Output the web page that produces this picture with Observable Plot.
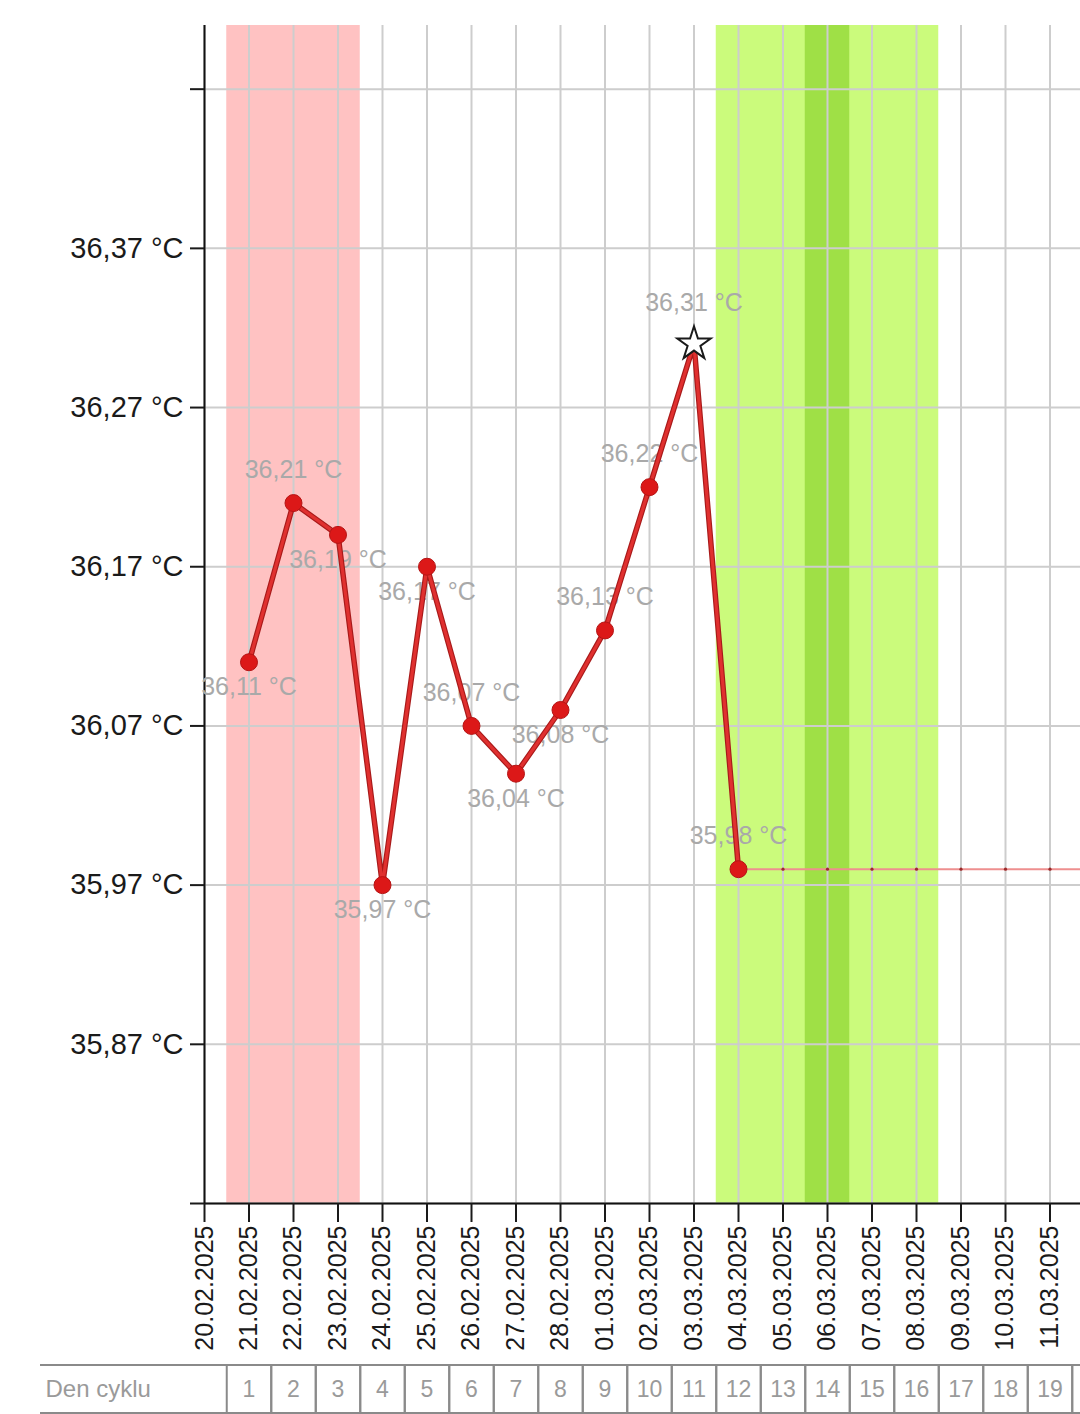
<!DOCTYPE html>
<html><head><meta charset="utf-8">
<script src="https://cdn.jsdelivr.net/npm/d3@7"></script>
<script src="https://cdn.jsdelivr.net/npm/@observablehq/plot@0.6"></script>
<style>
body{margin:0;background:#fff;font-family:"Liberation Sans",Arial,sans-serif;}
#chart{position:relative;width:1080px;height:1414px;overflow:hidden;}
#chart svg{max-width:none;}
#table{margin-left:40px;width:1040px;border-top:2px solid #8a8a8a;border-bottom:2px solid #8a8a8a;height:46px;position:relative;}
#table svg{position:absolute;left:-40px;top:0;width:1080px;max-width:none;}
</style></head><body><div id="chart"></div>
<script>
// ---- data ----
const measureDates = ["2025-02-21","2025-02-22","2025-02-23","2025-02-24","2025-02-25","2025-02-26","2025-02-27","2025-02-28","2025-03-01","2025-03-02","2025-03-03","2025-03-04"];
const temperatures = [36.11, 36.21, 36.19, 35.97, 36.17, 36.07, 36.04, 36.08, 36.13, 36.22, 36.31, 35.98];
const labelSides = ["below","above","below","below","below","above","below","below","above","above","above","above"];
const peakDate = "2025-03-03";
const pendingDates = ["2025-03-04","2025-03-05","2025-03-06","2025-03-07","2025-03-08","2025-03-09","2025-03-10","2025-03-11","2025-03-12","2025-03-13"];
const pendingValues = [35.98, 35.98, 35.98, 35.98, 35.98, 35.98, 35.98, 35.98, 35.98, 35.98];
const axisDates = ["2025-02-20","2025-02-21","2025-02-22","2025-02-23","2025-02-24","2025-02-25","2025-02-26","2025-02-27","2025-02-28","2025-03-01","2025-03-02","2025-03-03","2025-03-04","2025-03-05","2025-03-06","2025-03-07","2025-03-08","2025-03-09","2025-03-10","2025-03-11","2025-03-12"];
const cycleDates = ["2025-02-21","2025-02-22","2025-02-23","2025-02-24","2025-02-25","2025-02-26","2025-02-27","2025-02-28","2025-03-01","2025-03-02","2025-03-03","2025-03-04","2025-03-05","2025-03-06","2025-03-07","2025-03-08","2025-03-09","2025-03-10","2025-03-11","2025-03-12"];
const cycleDays = [1,2,3,4,5,6,7,8,9,10,11,12,13,14,15,16,17,18,19,20];
const cycleLabel = "Den cyklu";
const yTicks = [35.77, 35.87, 35.97, 36.07, 36.17, 36.27, 36.37, 36.47];
const yTickLabels = ["", "35,87 °C", "35,97 °C", "36,07 °C", "36,17 °C", "36,27 °C", "36,37 °C", ""];
const bandKinds = ["menstruace", "plodné dny", "ovulace"];
const bandStarts = ["2025-02-21", "2025-03-04", "2025-03-06"];
const bandEnds = ["2025-02-23", "2025-03-08", "2025-03-06"];

// ---- helpers ----
const parse = d3.utcParse("%Y-%m-%d");
const HALF = 12 * 3600 * 1000;
const fmtDate = d3.utcFormat("%d.%m.%Y");
const fmtTemp = v => v.toFixed(2).replace(".", ",") + " °C";
const FONT = '"Liberation Sans", Arial, sans-serif';

const points = measureDates.map((d, i) => ({date: parse(d), t: temperatures[i], side: labelSides[i], peak: d === peakDate}));
const pending = pendingDates.map((d, i) => ({date: parse(d), t: pendingValues[i]}));
const bands = bandKinds.map((k, i) => ({kind: k, x1: new Date(+parse(bandStarts[i]) - HALF), x2: new Date(+parse(bandEnds[i]) + HALF)}));
const ticksX = axisDates.map(parse);
const cells = cycleDays.map((n, i) => ({n, date: parse(cycleDates[i])}));
const tickLabelMap = new Map(yTicks.map((v, i) => [v, yTickLabels[i]]));

const xDomain = [parse("2025-02-20"), new Date(+parse("2025-03-11") + 16.45 * 3600 * 1000)];
const yDomain = [35.77, 36.51];

const main = Plot.plot({
  width: 1080, height: 1364,
  marginTop: 25, marginBottom: 161, marginLeft: 204, marginRight: 0,
  style: {fontFamily: FONT, color: "#1a1a1a", background: "white"},
  x: {type: "utc", domain: xDomain, axis: null},
  y: {domain: yDomain, axis: null},
  color: {domain: bandKinds, range: ["#ffc2c2", "#cbfb7c", "#9fe046"]},
  marks: [
    Plot.rect(bands, {x1: "x1", x2: "x2", fill: "kind"}),
    Plot.gridX(ticksX, {stroke: "#cdcdcd", strokeOpacity: 1, strokeWidth: 2}),
    Plot.gridY(yTicks, {stroke: "#cdcdcd", strokeOpacity: 1, strokeWidth: 2}),
    Plot.ruleX([xDomain[0]], {stroke: "#111", strokeWidth: 2}),
    Plot.ruleY([yDomain[0]], {stroke: "#111", strokeWidth: 2}),
    Plot.axisY({ticks: yTicks, tickFormat: v => tickLabelMap.get(v) ?? "", tickSize: 14, tickPadding: 7, fontSize: 29, strokeWidth: 2, label: null}),
    Plot.axisX({ticks: ticksX, tickFormat: fmtDate, tickRotate: -90, tickSize: 19, tickPadding: 3, fontSize: 25, strokeWidth: 2, label: null}),
    // value labels
    Plot.text(points.filter(p => p.side === "below"), {x: "date", y: "t", text: p => fmtTemp(p.t), dy: 25, fill: "#a9a9a9", fontSize: 25}),
    Plot.text(points.filter(p => p.side === "above" && !p.peak), {x: "date", y: "t", text: p => fmtTemp(p.t), dy: -33, fill: "#a9a9a9", fontSize: 25}),
    Plot.text(points.filter(p => p.peak), {x: "date", y: "t", text: p => fmtTemp(p.t), dy: -41, fill: "#a9a9a9", fontSize: 25}),
    // pending flat line
    Plot.line(pending, {x: "date", y: "t", stroke: "#ee8f8f", strokeWidth: 2}),
    Plot.dot(pending.slice(1), {x: "date", y: "t", r: 1.6, fill: "#9a2a2a"}),
    // main line
    Plot.line(points, {x: "date", y: "t", stroke: "#a81a1a", strokeWidth: 5.5}),
    Plot.line(points, {x: "date", y: "t", stroke: "#e0302f", strokeWidth: 3.2}),
    Plot.dot(points.filter(p => !p.peak), {x: "date", y: "t", r: 8.5, fill: "#dc1818", stroke: "#b51414", strokeWidth: 1}),
    Plot.dot(points.filter(p => p.peak), {x: "date", y: "t", symbol: "star", r: 10.5, fill: "white", stroke: "#1a1a1a", strokeWidth: 2})
  ]
});

const table = Plot.plot({
  width: 1080, height: 46,
  marginTop: 0, marginBottom: 0, marginLeft: 204, marginRight: 0,
  style: {fontFamily: FONT, background: "transparent", overflow: "visible"},
  x: {type: "utc", domain: xDomain, axis: null},
  marks: [
    Plot.ruleX(cells, {x: c => new Date(+c.date - HALF), stroke: "#8a8a8a", strokeWidth: 2}),
    Plot.ruleX(cells, {x: c => new Date(+c.date + HALF), stroke: "#8a8a8a", strokeWidth: 2}),
    Plot.text(cells, {x: "date", text: "n", frameAnchor: "middle", fill: "#9a9a9a", fontSize: 23}),
    Plot.text([cycleLabel], {frameAnchor: "left", dx: -159, textAnchor: "start", fill: "#9a9a9a", fontSize: 24})
  ]
});

const chart = document.getElementById("chart");
chart.appendChild(main);
const tdiv = document.createElement("div");
tdiv.id = "table";
tdiv.appendChild(table);
chart.appendChild(tdiv);
</script>
</body></html>
